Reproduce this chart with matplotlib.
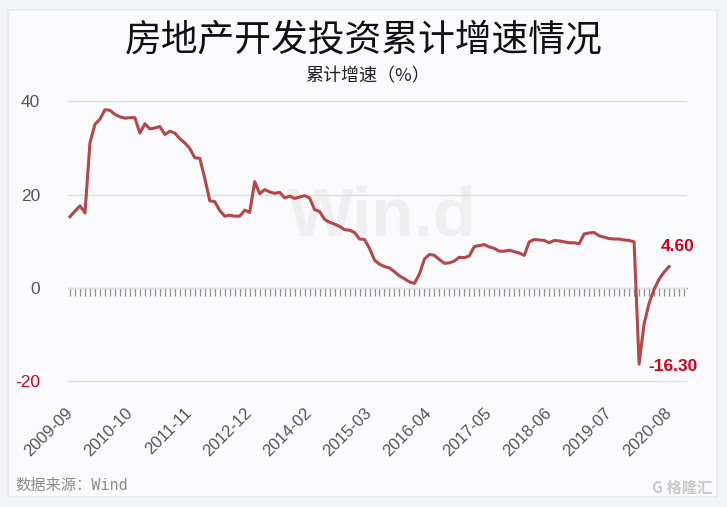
import matplotlib
matplotlib.use('Agg')
import matplotlib.pyplot as plt
from matplotlib.ticker import MultipleLocator
from matplotlib.patches import FancyBboxPatch

plt.rcParams['font.family'] = ['Noto Sans CJK SC', 'DejaVu Sans']
plt.rcParams['axes.unicode_minus'] = False

# 房地产开发投资累计同比（%），2009-09 ~ 2020-08，每年无单独1月数据
growth = [
    15.3, 16.5, 17.6, 16.1,                                          # 2009-09..12
    31.1, 35.1, 36.2, 38.2, 38.1, 37.2, 36.7, 36.4, 36.5, 36.5, 33.2,  # 2010
    35.2, 34.1, 34.3, 34.6, 32.9, 33.6, 33.2, 32.0, 31.1, 29.9, 27.9,  # 2011
    27.8, 23.5, 18.7, 18.5, 16.6, 15.4, 15.6, 15.4, 15.4, 16.7, 16.2,  # 2012
    22.8, 20.2, 21.1, 20.6, 20.3, 20.5, 19.3, 19.7, 19.2, 19.5, 19.8,  # 2013
    19.3, 16.8, 16.4, 14.7, 14.1, 13.7, 13.2, 12.5, 12.4, 11.9, 10.5,  # 2014
    10.4, 8.5, 6.0, 5.1, 4.6, 4.3, 3.5, 2.6, 2.0, 1.3, 1.0,            # 2015
    3.0, 6.2, 7.2, 7.0, 6.1, 5.3, 5.4, 5.8, 6.6, 6.5, 6.9,             # 2016
    8.9, 9.1, 9.3, 8.8, 8.5, 7.9, 7.9, 8.1, 7.8, 7.5, 7.0,             # 2017
    9.9, 10.4, 10.3, 10.2, 9.7, 10.2, 10.1, 9.9, 9.7, 9.7, 9.5,        # 2018
    11.6, 11.8, 11.9, 11.2, 10.9, 10.6, 10.5, 10.5, 10.3, 10.2, 9.9,   # 2019
    -16.3, -7.7, -3.3, -0.3, 1.9, 3.4, 4.6,                          # 2020
]
tick_labels = ['2009-09', '2010-10', '2011-11', '2012-12', '2014-02', '2015-03',
               '2016-04', '2017-05', '2018-06', '2019-07', '2020-08']
y_ticks = [-20, 0, 20, 40]

W, H = 727, 507
fig = plt.figure(figsize=(W / 100, H / 100), dpi=100, facecolor='#f4f5f7')

# card background
card = FancyBboxPatch((8 / W, 1 - 497 / H), 709 / W, 487 / H,
                      boxstyle='square,pad=0', transform=fig.transFigure,
                      facecolor='#fbfbfd', edgecolor='#e8e9ec', lw=1.2, zorder=-1)
fig.patches.append(card)

left, right = 68 / W, 687 / W
bottom, top = 1 - 390.7 / H, 1 - 82.7 / H
ax = fig.add_axes([left, bottom, right - left, top - bottom])
ax2 = ax.twiny()
ax.set_zorder(2)
ax2.set_zorder(1)
ax.patch.set_visible(False)
ax2.patch.set_visible(False)

x = list(range(len(growth)))
ax.plot(x, growth, color='#b3474a', lw=2.2, solid_joinstyle='round', zorder=3)

ax.set_xlim(-0.4, 123.6)
ax.set_ylim(-22, 44)
ax2.set_xlim(-0.4, 123.6)

for s in ax.spines.values():
    s.set_visible(False)
ax.set_yticks(y_ticks)
ax.yaxis.grid(True, color='#dedede', lw=1)
ax.tick_params(axis='y', length=0, pad=20, labelsize=12.5, labelcolor='#555555')
for lab in ax.get_yticklabels():
    lab.set_family(['Liberation Sans', 'DejaVu Sans'])
ax.get_yticklabels()[0].set_color('#d0021b')

ax.set_xticks(x[::12])
ax.set_xticklabels(tick_labels, rotation=45, ha='right', va='center',
                   rotation_mode='anchor', family=['Liberation Sans', 'DejaVu Sans'])
ax.tick_params(axis='x', length=0, pad=14, labelsize=12, labelcolor='#555555')

# zero line with monthly ticks
for k, s in ax2.spines.items():
    s.set_visible(k == 'bottom')
ax2.spines['bottom'].set_position(('data', 0))
ax2.spines['bottom'].set_color('#8f8f8f')
ax2.xaxis.set_ticks_position('bottom')
ax2.xaxis.set_major_locator(MultipleLocator(1))
ax2.tick_params(axis='x', direction='out', length=6, width=0.9, color='#8f8f8f',
                labelbottom=False, labeltop=False)

# end-point labels
lbl = dict(color='#d0021b', fontweight='bold', fontsize=12.5,
           family=['Liberation Sans', 'DejaVu Sans'], textcoords='offset points')
i_min = growth.index(min(growth))
ax.annotate(f'{growth[-1]:.2f}', xy=(x[-1], growth[-1]), xytext=(6.5, 14.5),
            ha='center', va='center', **lbl)
ax.annotate(f'{growth[i_min]:.2f}', xy=(x[i_min], growth[i_min]), xytext=(6.5, -1.5),
            ha='left', va='center', **lbl)

# watermark
ax.text(382 / W, 1 - 218 / H, 'Win.d', transform=fig.transFigure, ha='center', va='center',
        fontsize=50, fontweight='bold', color='#efefef', zorder=0,
        family=['Liberation Sans', 'DejaVu Sans'])

fig.text(0.5, 1 - 40 / H, '房地产开发投资累计增速情况', ha='center', va='center',
         fontsize=26.5, color='#111111')
fig.text(367 / W, 1 - 76 / H, '累计增速（%）', ha='center', va='center',
         fontsize=13, color='#222222')
fig.text(15 / W, 1 - 485 / H, '数据来源：Wind', ha='left', va='center',
         fontsize=11, color='#8c8c8c', family=['DejaVu Sans Mono', 'Noto Sans CJK SC'])
fig.text(712 / W, 1 - 488 / H, 'G 格隆汇', ha='right', va='center',
         fontsize=11, color='#c9c9c9', fontweight='bold')

fig.savefig('out.png', dpi=100, facecolor=fig.get_facecolor())
